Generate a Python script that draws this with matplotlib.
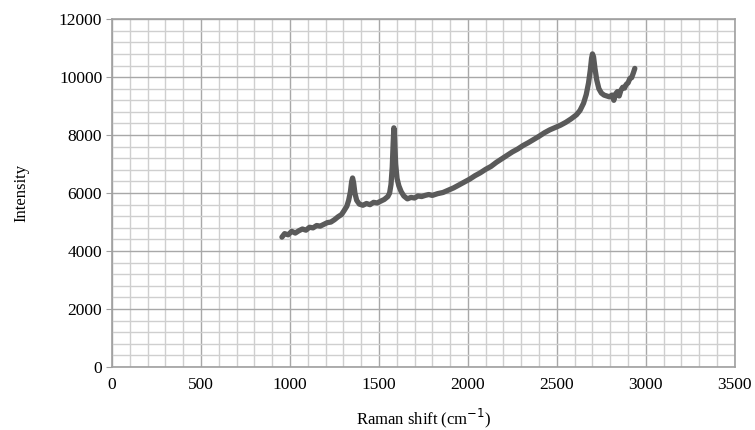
import numpy as np
import matplotlib.pyplot as plt
from matplotlib.ticker import MultipleLocator

# Raman spectrum
shift = [955, 970, 990, 1010, 1030, 1050, 1070, 1090, 1110, 1130, 1150, 1170,
         1190, 1210, 1230, 1250, 1270, 1290, 1305, 1320, 1330, 1340, 1347, 1352,
         1358, 1365, 1375, 1390, 1410, 1430, 1450, 1470, 1490, 1510, 1530, 1550,
         1560, 1568, 1575, 1580, 1584, 1588, 1594, 1602, 1612, 1625, 1640, 1660,
         1680, 1700, 1720, 1740, 1760, 1780, 1800, 1830, 1860, 1890, 1920, 1950,
         1980, 2010, 2040, 2070, 2100, 2130, 2160, 2190, 2220, 2250, 2280, 2310,
         2340, 2370, 2400, 2430, 2460, 2490, 2520, 2550, 2580, 2610, 2630, 2650,
         2665, 2678, 2688, 2695, 2700, 2706, 2714, 2724, 2736, 2750, 2765, 2780,
         2795, 2810, 2820, 2830, 2840, 2850, 2860, 2870, 2880, 2890, 2900, 2910,
         2920, 2930, 2938]
intensity = [4480, 4600, 4560, 4680, 4620, 4700, 4760, 4720, 4820, 4800, 4880, 4860,
             4920, 4980, 5000, 5080, 5180, 5260, 5400, 5550, 5750, 6050, 6400, 6520,
             6350, 6000, 5750, 5620, 5580, 5640, 5600, 5680, 5660, 5720, 5780, 5880,
             6000, 6300, 6900, 7700, 8250, 7900, 7000, 6500, 6250, 6050, 5900, 5800,
             5850, 5830, 5900, 5880, 5920, 5950, 5920, 5980, 6020, 6100, 6180, 6280,
             6380, 6480, 6600, 6700, 6820, 6920, 7060, 7180, 7300, 7420, 7520, 7640,
             7740, 7850, 7960, 8080, 8180, 8260, 8340, 8440, 8560, 8700, 8850, 9100,
             9400, 9800, 10250, 10650, 10800, 10700, 10300, 9900, 9600, 9450, 9380, 9350,
             9320, 9380, 9200, 9420, 9500, 9350, 9550, 9650, 9620, 9750, 9800, 9950,
             9980, 10150, 10300]

xticks = [0, 500, 1000, 1500, 2000, 2500, 3000, 3500]
yticks = [0, 2000, 4000, 6000, 8000, 10000, 12000]

plt.rcParams['font.family'] = ['Liberation Serif', 'DejaVu Serif']

fig = plt.figure(figsize=(7.55, 4.3), dpi=100)
ax = fig.add_axes([0.1483, 0.1465, 0.825, 0.809])

ax.plot(shift, intensity, color='#5a5a5a', lw=3.8, solid_capstyle='round', zorder=3)

ax.set_xlim(0, 3500)
ax.set_ylim(0, 12000)
ax.set_xticks(xticks)
ax.set_yticks(yticks)
ax.xaxis.set_minor_locator(MultipleLocator(100))
ax.yaxis.set_minor_locator(MultipleLocator(400))
ax.grid(which='major', color='#a8a8a8', lw=1.0)
ax.grid(which='minor', color='#cfcfcf', lw=1.0)
ax.set_axisbelow(True)

for s in ax.spines.values():
    s.set_color('#a0a0a0')
    s.set_linewidth(1.2)

ax.tick_params(axis='x', which='both', length=0, labelsize=12.5, pad=7)
ax.tick_params(axis='y', which='major', length=4, color='#a0a0a0', labelsize=12.5, pad=3)
ax.tick_params(axis='y', which='minor', length=0)

ax.set_xlabel('Raman shift (cm$^{-1}$)', fontsize=12, labelpad=10)
ax.set_ylabel('Intensity', fontsize=12, labelpad=21)

fig.savefig('out.png', dpi=100)
